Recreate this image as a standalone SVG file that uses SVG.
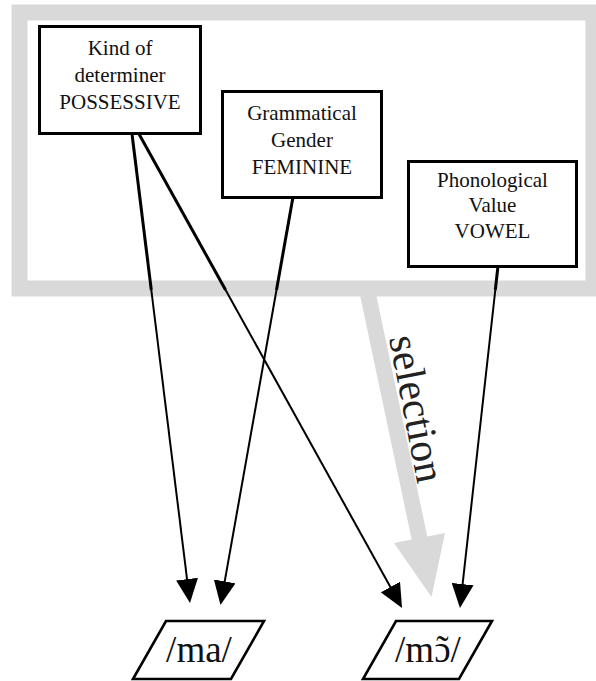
<svg xmlns="http://www.w3.org/2000/svg" width="596" height="681" viewBox="0 0 596 681">
<style>
.box{fill:#fff;stroke:#000;stroke-width:3}
.lbl{font-family:"Liberation Serif",serif;font-size:21px;fill:#111;text-anchor:middle}
.ph{font-family:"Liberation Serif",serif;font-size:37px;fill:#111;text-anchor:middle}
.up{fill:none;stroke:#000;stroke-width:3}
.conn{fill:none;stroke:#000;stroke-width:2;marker-end:url(#ah)}
.para{fill:#fff;stroke:#000;stroke-width:2.6;stroke-linejoin:miter}
</style>
<defs>
<marker id="ah" viewBox="0 0 24 22" refX="20" refY="11" markerWidth="24" markerHeight="22" markerUnits="userSpaceOnUse" orient="auto">
<path d="M0,0 L24,11 L0,22 z" fill="#000"/>
</marker>
</defs>
<rect width="596" height="681" fill="#fff"/>
<g id="frame">
<rect x="19.5" y="12.5" width="574" height="276" fill="none" stroke="#d9d9d9" stroke-width="16"/>
</g>
<g id="selection">
<polygon points="373.8,283.4 427.3,536.4 445,532.9 431.5,597 394,543.1 411.7,539.6 358.2,286.6" fill="#d9d9d9"/>
<text transform="translate(389,338) rotate(79)" font-family="Liberation Serif, serif" font-size="42" fill="#222">selection</text>
</g>
<g id="node-kind">
<rect class="box" x="39.5" y="26.5" width="161" height="107"/>
<text class="lbl" x="120" y="55">Kind of</text>
<text class="lbl" x="120" y="82">determiner</text>
<text class="lbl" x="120" y="109">POSSESSIVE</text>
</g>
<g id="node-gender">
<rect class="box" x="222.5" y="91.5" width="159" height="106"/>
<text class="lbl" x="302" y="120">Grammatical</text>
<text class="lbl" x="302" y="147">Gender</text>
<text class="lbl" x="302" y="174">FEMININE</text>
</g>
<g id="node-phon">
<rect class="box" x="408.5" y="161.5" width="168" height="105"/>
<text class="lbl" x="492.5" y="187">Phonological</text>
<text class="lbl" x="492.5" y="212">Value</text>
<text class="lbl" x="492.5" y="238">VOWEL</text>
</g>
<g id="connectors">
<path class="up" d="M132,134 L151.3,290"/>
<path class="conn" d="M151.3,290 L189.5,599"/>
<path class="up" d="M139,134 L225.6,290"/>
<path class="conn" d="M225.6,290 L400.1,604.5"/>
<path class="up" d="M293,197 L276.5,290"/>
<path class="conn" d="M276.5,290 L221.2,601.1"/>
<path class="up" d="M498,266 L495.3,290"/>
<path class="conn" d="M495.3,290 L460.4,604"/>
</g>
<g id="node-ma">
<polygon class="para" points="166,621 264,621 231,679 133,679"/>
<text class="ph" x="199" y="662">/ma/</text>
</g>
<g id="node-mon">
<polygon class="para" points="396,621 492,621 459,679 363,679"/>
<text class="ph" x="428" y="662">/mɔ<tspan dx="-14.4">˜</tspan><tspan dx="2.1">/</tspan></text>
</g>
</svg>
